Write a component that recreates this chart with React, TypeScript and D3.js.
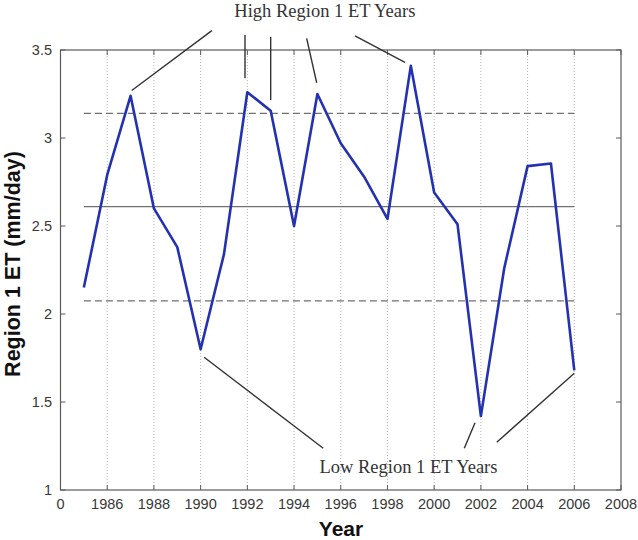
import React, { useEffect, useRef } from 'react';
import * as d3 from 'd3';

// annual Region 1 ET
const years = [1985, 1986, 1987, 1988, 1989, 1990, 1991, 1992, 1993, 1994, 1995,
    1996, 1997, 1998, 1999, 2000, 2001, 2002, 2003, 2004, 2005, 2006];
const etValues = [2.15, 2.79, 3.24, 2.6, 2.38, 1.8, 2.34, 3.26, 3.155, 2.5, 3.25,
    2.97, 2.78, 2.54, 3.41, 2.69, 2.51, 1.42, 2.26, 2.84, 2.855, 1.68];

const meanET = 2.61;
const upperET = 3.14;
const lowerET = 2.075;

const xTicks = [1984, 1986, 1988, 1990, 1992, 1994, 1996, 1998, 2000, 2002, 2004, 2006, 2008];
const xTickLabels = ['0', '1986', '1988', '1990', '1992', '1994', '1996', '1998', '2000', '2002', '2004', '2006', '2008'];
const yTicks = [1, 1.5, 2, 2.5, 3, 3.5];
const yTickLabels = ['1', '1.5', '2', '2.5', '3', '3.5'];

// annotations, in data units [year, ET]
const highText = { label: 'High Region 1 ET Years', at: [1995.32, 3.69] };
const highPointers = [
    [[1990.48, 3.61], [1987.05, 3.27]],
    [[1991.9, 3.585], [1991.9, 3.34]],
    [[1993.0, 3.575], [1993.0, 3.216]],
    [[1994.54, 3.566], [1994.97, 3.314]],
    [[1996.61, 3.58], [1998.75, 3.43]],
];
const lowText = { label: 'Low Region 1 ET Years', at: [1998.9, 1.098] };
const lowPointers = [
    [[1990.15, 1.754], [1995.25, 1.237]],
    [[2001.75, 1.382], [2001.29, 1.237]],
    [[2006.0, 1.663], [2002.68, 1.271]],
];

const width = 638;
const height = 540;

const App: React.FC = () => {
    const svgRef = useRef<SVGSVGElement>(null);

    useEffect(() => {
        if (!svgRef.current) return;
        const svg = d3.select(svgRef.current);
        svg.selectAll('*').remove();

        const left = 60.5, right = 621, top = 50, bottom = 490;

        const x = d3.scaleLinear().domain([1984, 2008]).range([left, right]);
        const y = d3.scaleLinear().domain([1, 3.5]).range([bottom, top]);

        svg.append('rect')
            .attr('width', width).attr('height', height).attr('fill', 'white');

        // vertical dotted grid
        svg.append('g')
            .selectAll('line')
            .data(xTicks.slice(1, -1))
            .enter()
            .append('line')
            .attr('x1', d => x(d)).attr('x2', d => x(d))
            .attr('y1', top).attr('y2', bottom)
            .attr('stroke', '#b5b5b5')
            .attr('stroke-width', 1)
            .attr('stroke-dasharray', '1,2');

        // mean and +/- lines
        const span = d3.extent(years) as [number, number];
        const refLines = [
            { v: meanET, dash: null },
            { v: upperET, dash: '7,4' },
            { v: lowerET, dash: '7,4' },
        ];
        svg.append('g')
            .selectAll('line')
            .data(refLines)
            .enter()
            .append('line')
            .attr('x1', x(span[0])).attr('x2', x(span[1]))
            .attr('y1', d => y(d.v)).attr('y2', d => y(d.v))
            .attr('stroke', '#707070')
            .attr('stroke-width', 1.2)
            .attr('stroke-dasharray', d => d.dash);

        // box
        svg.append('rect')
            .attr('x', left).attr('y', top)
            .attr('width', right - left).attr('height', bottom - top)
            .attr('fill', 'none')
            .attr('stroke', '#5a5a5a')
            .attr('stroke-width', 1.2);

        // inward ticks on all four sides
        const tickLen = 5;
        const ticks = svg.append('g').attr('stroke', '#5a5a5a').attr('stroke-width', 1);
        xTicks.forEach(t => {
            ticks.append('line').attr('x1', x(t)).attr('x2', x(t)).attr('y1', bottom).attr('y2', bottom - tickLen);
            ticks.append('line').attr('x1', x(t)).attr('x2', x(t)).attr('y1', top).attr('y2', top + tickLen);
        });
        yTicks.forEach(t => {
            ticks.append('line').attr('x1', left).attr('x2', left + tickLen).attr('y1', y(t)).attr('y2', y(t));
            ticks.append('line').attr('x1', right).attr('x2', right - tickLen).attr('y1', y(t)).attr('y2', y(t));
        });

        // tick labels
        svg.append('g')
            .selectAll('text')
            .data(xTicks)
            .enter()
            .append('text')
            .attr('x', d => x(d))
            .attr('y', bottom + 18.5)
            .attr('text-anchor', 'middle')
            .style('font-family', '"Liberation Sans", Arial, sans-serif')
            .style('font-size', '14.5px')
            .attr('fill', '#383838')
            .text((d, i) => xTickLabels[i]);

        svg.append('g')
            .selectAll('text')
            .data(yTicks)
            .enter()
            .append('text')
            .attr('x', left - 8.5)
            .attr('y', d => y(d))
            .attr('dy', '0.35em')
            .attr('text-anchor', 'end')
            .style('font-family', '"Liberation Sans", Arial, sans-serif')
            .style('font-size', '14.5px')
            .attr('fill', '#383838')
            .text((d, i) => yTickLabels[i]);

        // axis titles
        svg.append('text')
            .attr('x', 341)
            .attr('y', 535.5)
            .attr('text-anchor', 'middle')
            .style('font-family', '"Liberation Sans", Arial, sans-serif')
            .style('font-size', '21px')
            .style('font-weight', 'bold')
            .attr('fill', '#111')
            .text('Year');

        svg.append('text')
            .attr('transform', `translate(20,264) rotate(-90)`)
            .attr('text-anchor', 'middle')
            .style('font-family', '"Liberation Sans", Arial, sans-serif')
            .style('font-size', '21.5px')
            .style('font-weight', 'bold')
            .attr('fill', '#111')
            .text('Region 1 ET (mm/day)');

        // ET series
        const line = d3.line<number>()
            .x((d, i) => x(years[i]))
            .y(d => y(d));

        svg.append('path')
            .datum(etValues)
            .attr('d', line)
            .attr('fill', 'none')
            .attr('stroke', '#2431b0')
            .attr('stroke-width', 2.6)
            .attr('stroke-linejoin', 'round');

        // annotations
        const pointers = svg.append('g').attr('stroke', '#333').attr('stroke-width', 1.4);
        [...highPointers, ...lowPointers].forEach(p => {
            pointers.append('line')
                .attr('x1', x(p[0][0])).attr('y1', y(p[0][1]))
                .attr('x2', x(p[1][0])).attr('y2', y(p[1][1]));
        });

        [highText, lowText].forEach(t => {
            svg.append('text')
                .attr('x', x(t.at[0]))
                .attr('y', y(t.at[1]))
                .attr('text-anchor', 'middle')
                .style('font-family', '"Liberation Serif", "Times New Roman", serif')
                .style('font-size', '18.5px')
                .attr('fill', '#333')
                .text(t.label);
        });
    }, []);

    return (
        <svg ref={svgRef} width={width} height={height}
            style={{ position: 'absolute', left: 0, top: 0, display: 'block' }} />
    );
};

export default App;
